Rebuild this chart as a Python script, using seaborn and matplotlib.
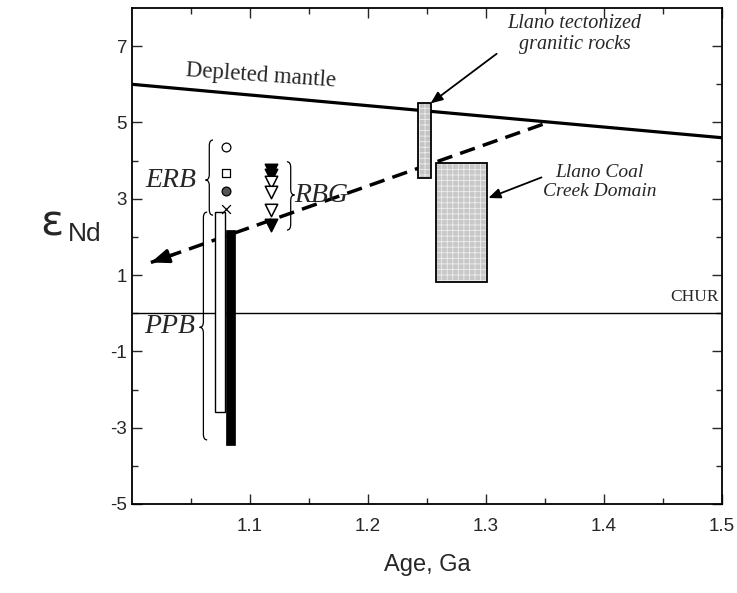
import numpy as np
import pandas as pd
import matplotlib
matplotlib.use("Agg")
import matplotlib.pyplot as plt
import seaborn as sns
from matplotlib.patches import Rectangle, PathPatch
from matplotlib.path import Path

# ---------------- data ----------------
mantle_age = [1.0, 1.5]
mantle_eps = [6.0, 4.6]
chur_age = [1.0, 1.5]
chur_eps = [0.0, 0.0]

trend_age = [1.348, 1.016]
trend_eps = [4.95, 1.33]

erb_age = [1.0797, 1.0797, 1.0797, 1.0797]
erb_eps = [4.36, 3.68, 3.20, 2.73]
erb_kind = ["circle", "square", "dot", "cross"]

rbg_age = [1.118, 1.118, 1.118, 1.118, 1.118, 1.118]
rbg_eps = [3.75, 3.62, 3.45, 3.18, 2.71, 2.31]
rbg_kind = ["filled", "filled", "open", "open", "open", "filled"]

# bars: (x0, x1, y0, y1)
ppb_open = (1.0703, 1.0785, -2.58, 2.65)
ppb_black = (1.0794, 1.0873, -3.45, 2.18)
llano_tect = (1.242, 1.253, 3.54, 5.52)
coal_creek = (1.2576, 1.301, 0.81, 3.93)

x_ticks = [1.1, 1.2, 1.3, 1.4, 1.5]
y_ticks = [-5, -3, -1, 1, 3, 5, 7]

# ---------------- style ----------------
sns.set_theme(style="ticks")
plt.rcParams["font.family"] = ["Liberation Sans", "DejaVu Sans"]
plt.rcParams["hatch.linewidth"] = 0.6

fig = plt.figure(figsize=(7.37, 5.93), dpi=100)
ax = fig.add_axes([132 / 737, 1 - 504 / 593, (722 - 132) / 737, (504 - 8) / 593])

sns.lineplot(x=mantle_age, y=mantle_eps, ax=ax, color="black", lw=2.3, legend=False)
sns.lineplot(x=chur_age, y=chur_eps, ax=ax, color="black", lw=1.0, legend=False)

# trend (dashed) with arrow at left end
ax.plot(trend_age, trend_eps, color="black", lw=2.5, ls=(0, (4.5, 2.4)), dash_capstyle="butt")
dx = trend_age[1] - trend_age[0]
dy = trend_eps[1] - trend_eps[0]
ax.annotate("", xy=(trend_age[1], trend_eps[1]),
            xytext=(trend_age[1] - 0.06 * dx, trend_eps[1] - 0.06 * dy),
            arrowprops=dict(arrowstyle="-|>,head_length=0.9,head_width=0.35",
                            color="black", lw=2.2, shrinkA=0, shrinkB=0))

# bars
def rect(b, **kw):
    return Rectangle((b[0], b[2]), b[1] - b[0], b[3] - b[2], **kw)

ax.add_patch(rect(ppb_open, facecolor="white", edgecolor="black", lw=1.0, zorder=3))
ax.add_patch(rect(ppb_black, facecolor="black", edgecolor="black", lw=0.5, zorder=3))
for b, fc in [(llano_tect, "#c4c4c4"), (coal_creek, "#c8c8c8")]:
    ax.add_patch(rect(b, facecolor=fc, edgecolor="#eeeeee", hatch="+++", lw=0, zorder=3))
    ax.add_patch(rect(b, fill=False, edgecolor="black", lw=1.3, zorder=4))

# ERB markers
erb_df = pd.DataFrame({"age": erb_age, "eps": erb_eps, "kind": erb_kind})
sty = {"circle": dict(marker="o", facecolor="white", edgecolor="black"),
       "square": dict(marker="s", facecolor="white", edgecolor="black"),
       "dot": dict(marker="o", facecolor="#555555", edgecolor="black"),
       "cross": dict(marker="x", facecolor="black", edgecolor="black")}
for k, sub in erb_df.groupby("kind"):
    s = sty[k]
    sns.scatterplot(data=sub, x="age", y="eps", ax=ax, marker=s["marker"], s=40,
                    facecolor=s["facecolor"], edgecolor=s["edgecolor"],
                    color="black", linewidth=0.9, zorder=5, legend=False)

rbg_df = pd.DataFrame({"age": rbg_age, "eps": rbg_eps, "kind": rbg_kind})
for k, sub in rbg_df.groupby("kind"):
    fc = "black" if k == "filled" else "white"
    sns.scatterplot(data=sub, x="age", y="eps", ax=ax, marker="v", s=80,
                    facecolor=fc, edgecolor="black", linewidth=1.1, zorder=5, legend=False)

# braces
def brace(x0, y1, y2, ym, w, h, direction=-1, lw=0.9):
    d = direction
    verts = [(x0 - d * w, y2), (x0, y2), (x0, y2 - h),
             (x0, ym + h), (x0, ym), (x0 + d * w, ym),
             (x0, ym), (x0, ym - h),
             (x0, y1 + h), (x0, y1), (x0 - d * w, y1)]
    codes = [Path.MOVETO, Path.CURVE3, Path.CURVE3,
             Path.LINETO, Path.CURVE3, Path.CURVE3,
             Path.CURVE3, Path.CURVE3,
             Path.LINETO, Path.CURVE3, Path.CURVE3]
    ax.add_patch(PathPatch(Path(verts, codes), fill=False, edgecolor="black", lw=lw, zorder=4))

brace(1.0655, 2.57, 4.54, 3.49, 0.0032, 0.15, -1)
brace(1.0605, -3.32, 2.65, -0.37, 0.0032, 0.15, -1)
brace(1.1345, 2.18, 3.97, 3.10, 0.0032, 0.15, 1)

serif = ["Liberation Serif", "DejaVu Serif"]
serif_i = dict(family=serif, style="italic")
ax.text(1.0325, 3.49, "ERB", fontsize=20, ha="center", va="center", **serif_i)
ax.text(1.032, -0.36, "PPB", fontsize=20, ha="center", va="center", **serif_i)
ax.text(1.1375, 3.08, "RBG", fontsize=20, ha="left", va="center", **serif_i)

ax.text(1.375, 7.32, "Llano tectonized\ngranitic rocks", fontsize=14.5, ha="center",
        va="center", linespacing=1.2, **serif_i)
ax.annotate("", xy=(1.253, 5.50), xytext=(1.309, 6.80),
            arrowprops=dict(arrowstyle="-|>,head_length=0.6,head_width=0.25",
                            color="black", lw=1.3, shrinkA=0, shrinkB=0))
ax.text(1.396, 3.44, "Llano Coal\nCreek Domain", fontsize=14, ha="center",
        va="center", linespacing=1.2, **serif_i)
ax.annotate("", xy=(1.302, 3.02), xytext=(1.347, 3.56),
            arrowprops=dict(arrowstyle="-|>,head_length=0.6,head_width=0.25",
                            color="black", lw=1.3, shrinkA=0, shrinkB=0))

ax.text(1.109, 6.22, "Depleted mantle", fontsize=16.5, ha="center", va="center",
        rotation=-4.0, family=serif)
ax.text(1.497, 0.42, "CHUR", fontsize=12.5, ha="right", va="center", family=serif)

# axes
ax.set_xlim(1.0, 1.5)
ax.set_ylim(-5, 8)
ax.set_xticks(x_ticks)
ax.set_xticklabels([f"{t:.1f}" for t in x_ticks])
ax.set_xticks(np.arange(1.05, 1.5, 0.1), minor=True)
ax.set_yticks(y_ticks)
ax.set_yticklabels([str(t) for t in y_ticks])
ax.set_yticks(np.arange(-4, 8, 2), minor=True)
ax.tick_params(which="both", direction="in", top=True, right=True, labelsize=13.5, width=1.0)
ax.tick_params(which="major", length=7)
ax.tick_params(which="minor", length=4)
ax.tick_params(axis="x", pad=10)
for sp in ax.spines.values():
    sp.set_linewidth(1.3)
    sp.set_color("black")
ax.set_xlabel("Age, Ga", fontsize=17, labelpad=14)
ax.set_ylabel("")

fig.text(40 / 737, 1 - 224 / 593, "ε", fontsize=31, ha="left", va="center",
         family=["DejaVu Sans"])
fig.text(68 / 737, 1 - 234 / 593, "Nd", fontsize=19, ha="left", va="center")

fig.savefig("out.png", dpi=100)
